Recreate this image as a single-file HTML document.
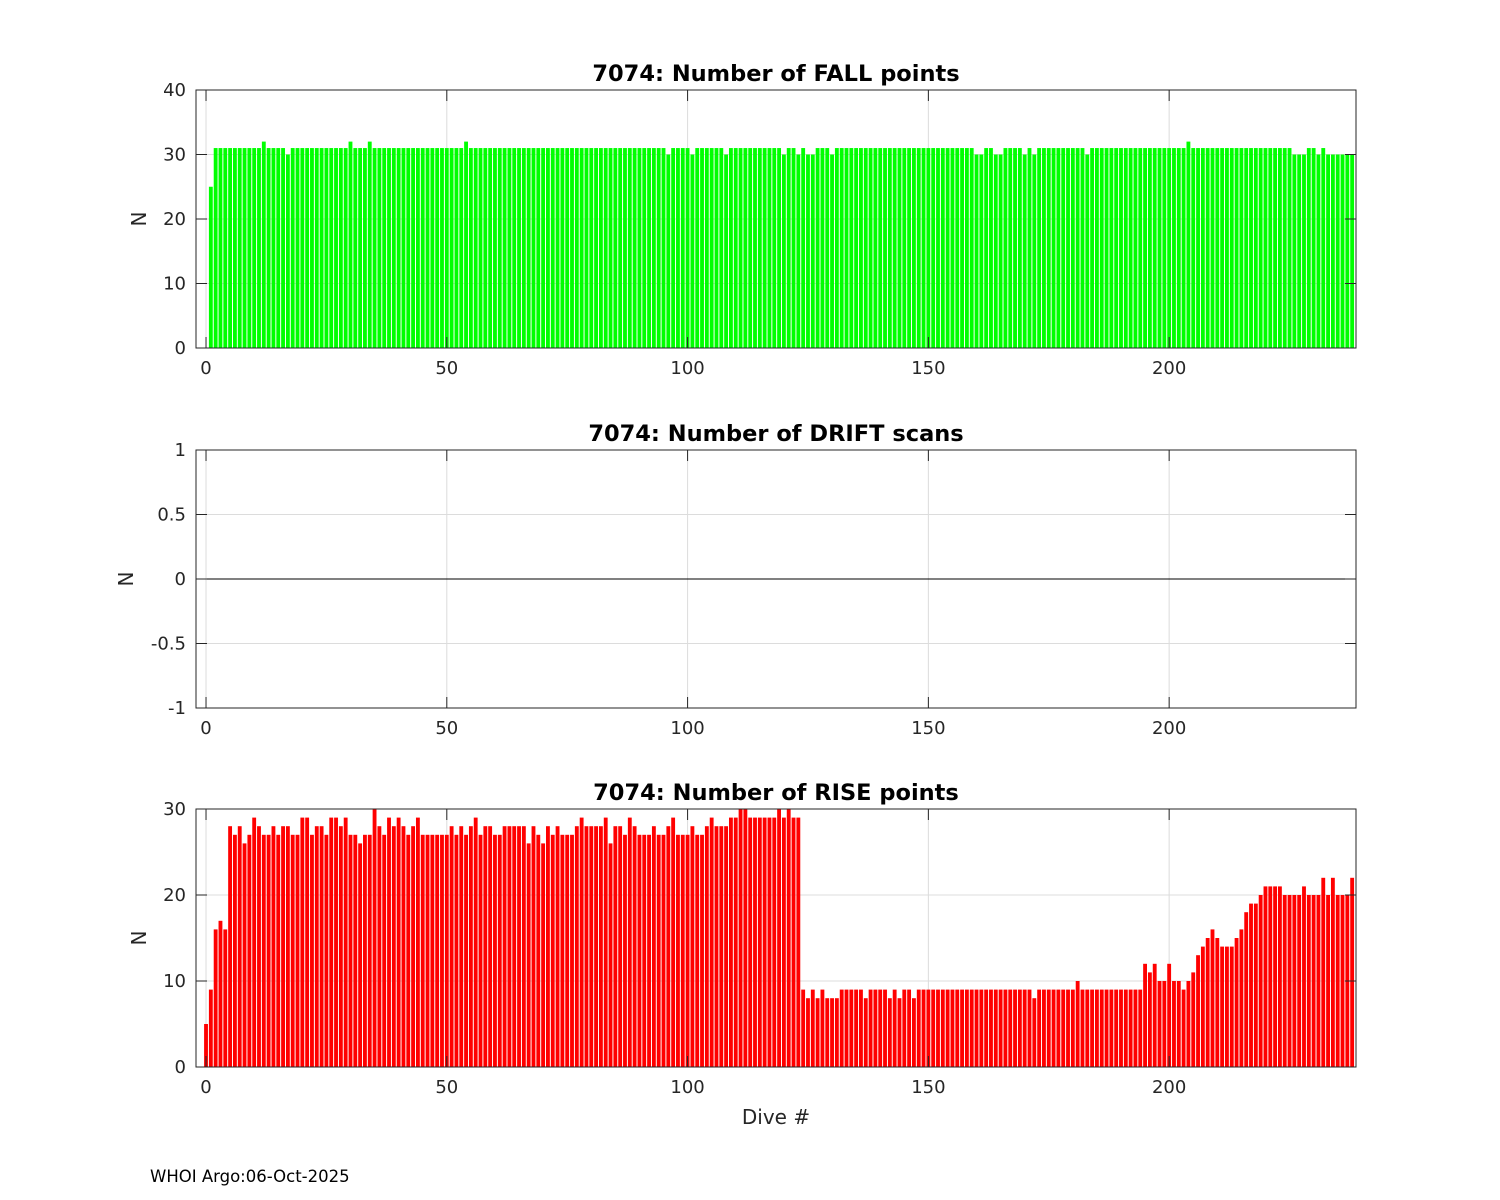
<!DOCTYPE html>
<html><head><meta charset="utf-8"><style>
body{margin:0;background:#fff;}
svg{display:block;font-family:"DejaVu Sans","Liberation Sans",sans-serif;}
</style></head><body>
<svg id="fig" width="1500" height="1200" viewBox="0 0 1500 1200" xmlns="http://www.w3.org/2000/svg">
<rect width="1500" height="1200" fill="#fff"/>
<text x="150" y="1182" font-size="16.5" fill="#000">WHOI Argo:06-Oct-2025</text>
<text x="776" y="1124" font-size="20" text-anchor="middle" fill="#262626">Dive #</text>
</svg>
<script>
const fallValues = [0,25,31,31,31,31,31,31,31,31,31,31,32,31,31,31,31,30,31,31,31,31,31,31,31,31,31,31,31,31,32,31,31,31,32,31,31,31,31,31,31,31,31,31,31,31,31,31,31,31,31,31,31,31,32,31,31,31,31,31,31,31,31,31,31,31,31,31,31,31,31,31,31,31,31,31,31,31,31,31,31,31,31,31,31,31,31,31,31,31,31,31,31,31,31,31,30,31,31,31,31,30,31,31,31,31,31,31,30,31,31,31,31,31,31,31,31,31,31,31,30,31,31,30,31,30,30,31,31,31,30,31,31,31,31,31,31,31,31,31,31,31,31,31,31,31,31,31,31,31,31,31,31,31,31,31,31,31,31,31,30,30,31,31,30,30,31,31,31,31,30,31,30,31,31,31,31,31,31,31,31,31,31,30,31,31,31,31,31,31,31,31,31,31,31,31,31,31,31,31,31,31,31,31,32,31,31,31,31,31,31,31,31,31,31,31,31,31,31,31,31,31,31,31,31,31,30,30,30,31,31,30,31,30,30,30,30,30,30];
const driftValues = new Array(239).fill(0);
const riseValues = [
5,9,16,17,16,28,27,28,26,27, 29,28,27,27,28,27,28,28,27,27, 29,29,27,28,28,27,29,29,28,29,
27,27,26,27,27,30,28,27,29,28, 29,28,27,28,29,27,27,27,27,27, 27,28,27,28,27,28,29,27,28,28,
27,27,28,28,28,28,28,26,28,27, 26,28,27,28,27,27,27,28,29,28, 28,28,28,29,26,28,28,27,29,28,
27,27,27,28,27,27,28,29,27,27, 27,28,27,27,28,29,28,28,28,29, 29,30,30,29,29,29,29,29,29,30,
29,30,29,29,
9,8,9,8,9,8,8,8, 9,9,9,9,9, 8, 9,9,9,9, 8, 9, 8, 9,9, 8,
9,9,9,9,9,9,9,9,9,9,9,9,9,9,9,9,9,9,9,9,9,9,9,9,
8, 9,9,9,9,9,9,9,9, 10,
9,9,9,9,9,9,9,9,9,9,9,9,9,
12,11,12,10,10,12,10,10,9,10,11,13,14,15,16,15,14,14,14,15,16,18,19,19,20,21,21,21,21,20,20,20,20,21,20,20,20,22,20,22,20,20,20,22];
const xTicks = [0,50,100,150,200];
const fallTicks = [0,10,20,30,40];
const driftTicks = [-1,-0.5,0,0.5,1];
const driftTickLabels = ["-1","-0.5","0","0.5","1"];
const riseTicks = [0,10,20,30];

const NS='http://www.w3.org/2000/svg';
const svg=document.getElementById('fig');
const L=196,R=1356,XMIN=-2.08,XMAX=238.8;
function xs(v){return L+(v-XMIN)/(XMAX-XMIN)*(R-L);}
function mk(tag,a,parent){const e=document.createElementNS(NS,tag);for(const k in a)e.setAttribute(k,a[k]);(parent||svg).appendChild(e);return e;}

function panel(key,top,bot,ymin,ymax,yt,ytl,vals,color,title){
  const g=mk('g',{});
  
  
  const ys=v=>bot-(v-ymin)/(ymax-ymin)*(bot-top);
  xTicks.forEach(t=>{const l=mk('line',{x1:xs(t),x2:xs(t),y1:top,y2:bot,stroke:'#dcdcdc','stroke-width':1},g);
    });
  yt.forEach(t=>{const l=mk('line',{x1:L,x2:R,y1:ys(t),y2:ys(t),stroke:'#dcdcdc','stroke-width':1},g);
    });
  const bw=(xs(1)-xs(0))*0.8;
  const base=Math.max(ymin,0);
  vals.forEach((v,i)=>{
    if(v===0)return;
    const y0=ys(base),y1=ys(v);
    const r=mk('rect',{x:xs(i)-bw/2,y:Math.min(y0,y1),width:bw,height:Math.abs(y0-y1),fill:color},g);
    
    
  });
  if(ymin<0){const z=mk('line',{x1:xs(0)-bw/2,x2:xs(vals.length-1)+bw/2,y1:ys(0),y2:ys(0),stroke:'#000','stroke-width':1},g);
    }
  const b=mk('rect',{x:L,y:top,width:R-L,height:bot-top,fill:'none',stroke:'#262626','stroke-width':1},g);
  
  xTicks.forEach(t=>{
    mk('line',{x1:xs(t),x2:xs(t),y1:bot,y2:bot-11,stroke:'#262626'},g);
    mk('line',{x1:xs(t),x2:xs(t),y1:top,y2:top+11,stroke:'#262626'},g);
    const tx=mk('text',{x:xs(t),y:bot+26,'font-size':18,'text-anchor':'middle',fill:'#262626'},g);
    tx.textContent=t;
    
  });
  yt.forEach((t,i)=>{
    mk('line',{x1:L,x2:L+11,y1:ys(t),y2:ys(t),stroke:'#262626'},g);
    mk('line',{x1:R,x2:R-11,y1:ys(t),y2:ys(t),stroke:'#262626'},g);
    const tx=mk('text',{x:L-10,y:ys(t)+6,'font-size':18,'text-anchor':'end',fill:'#262626'},g);
    tx.textContent=ytl[i];
    
  });
  const yl=mk('text',{x:0,y:0,'font-size':20,'text-anchor':'middle',fill:'#262626',transform:`translate(${ymin<0?133:146},${(top+bot)/2}) rotate(-90)`},g);
  yl.textContent='N';
  
  const tt=mk('text',{x:(L+R)/2,y:top-9,'font-size':22.5,'font-weight':'bold','text-anchor':'middle',fill:'#000'},g);
  tt.textContent=title;
  
}
panel('fall',90,348,0,40,fallTicks,fallTicks.map(String),fallValues,'#00ff00','7074: Number of FALL points');
panel('drift',450,708,-1,1,driftTicks,driftTickLabels,driftValues,'#0000ff','7074: Number of DRIFT scans');
panel('rise',809,1067,0,30,riseTicks,riseTicks.map(String),riseValues,'#ff0000','7074: Number of RISE points');
</script>
</body></html>
